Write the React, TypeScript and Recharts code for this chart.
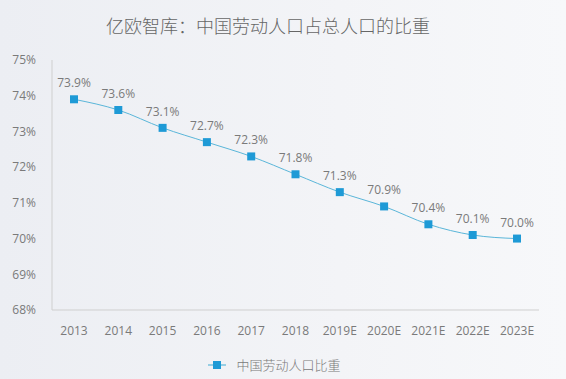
import { LineChart, Line, XAxis, YAxis, LabelList, Legend } from "recharts";

const years = ["2013", "2014", "2015", "2016", "2017", "2018", "2019E", "2020E", "2021E", "2022E", "2023E"];
const ratio = [73.9, 73.6, 73.1, 72.7, 72.3, 71.8, 71.3, 70.9, 70.4, 70.1, 70.0];
const yTicks = [68, 69, 70, 71, 72, 73, 74, 75];

const data = years.map((y, i) => ({ year: y, value: ratio[i] }));

const font = "'Open Sans', 'Noto Sans CJK SC', sans-serif";
const textColor = "#7a7a7a";
const lineColor = "#5ab6d9";
const markerColor = "#1e9ad6";

const SquareDot = (props: any) => {
  const { cx, cy } = props;
  return <rect x={cx - 4} y={cy - 4} width={8} height={8} fill={markerColor} />;
};

const LegendContent = () => (
  <div
    style={{
      display: "flex",
      justifyContent: "center",
      alignItems: "center",
      fontFamily: "'Noto Sans CJK SC', sans-serif",
      fontWeight: 300,
      fontSize: 13,
      color: textColor,
      marginLeft: 10,
    }}
  >
    <svg width={18} height={10} style={{ marginRight: 10 }}>
      <line x1={0} y1={5} x2={18} y2={5} stroke={lineColor} strokeWidth={1.2} />
      <rect x={5} y={1} width={8} height={8} fill={markerColor} />
    </svg>
    <span>中国劳动人口比重</span>
  </div>
);

export default function App() {
  return (
    <div
      style={{
        position: "absolute",
        top: 0,
        left: 0,
        width: 566,
        height: 379,
        background: "linear-gradient(90deg, #eceef3 0%, #f3f4f7 60%, #f7f8fa 100%)",
        fontFamily: font,
      }}
    >
      <div
        style={{
          position: "absolute",
          top: 12,
          width: 536,
          textAlign: "center",
          fontSize: 18,
          fontWeight: 300,
          color: "#666",
          fontFamily: "'Noto Sans CJK SC', sans-serif",
        }}
      >
        亿欧智库：中国劳动人口占总人口的比重
      </div>
      <LineChart width={566} height={379} data={data} margin={{ top: 60, right: 27, left: 0, bottom: 0 }}>
        <XAxis
          dataKey="year"
          height={45}
          padding={{ left: 22, right: 22 }}
          tick={{ fontSize: 12, fill: textColor, fontFamily: font }}
          tickLine={false}
          axisLine={{ stroke: "#cfcfcf" }}
          tickMargin={10}
        />
        <YAxis
          domain={[68, 75]}
          ticks={yTicks}
          width={52}
          tick={{ fontSize: 12, fill: textColor, fontFamily: font }}
          tickFormatter={(v) => `${v}%`}
          tickLine={false}
          axisLine={{ stroke: "#cfcfcf" }}
          tickMargin={10}
        />
        <Legend verticalAlign="bottom" height={24} content={<LegendContent />} />
        <Line
          type="monotone"
          dataKey="value"
          stroke={lineColor}
          strokeWidth={1}
          dot={<SquareDot />}
          isAnimationActive={false}
        >
          <LabelList
            dataKey="value"
            position="top"
            offset={12}
            formatter={(v: any) => `${Number(v).toFixed(1)}%`}
            style={{ fontSize: 12, fill: textColor, fontFamily: font }}
          />
        </Line>
      </LineChart>
    </div>
  );
}
